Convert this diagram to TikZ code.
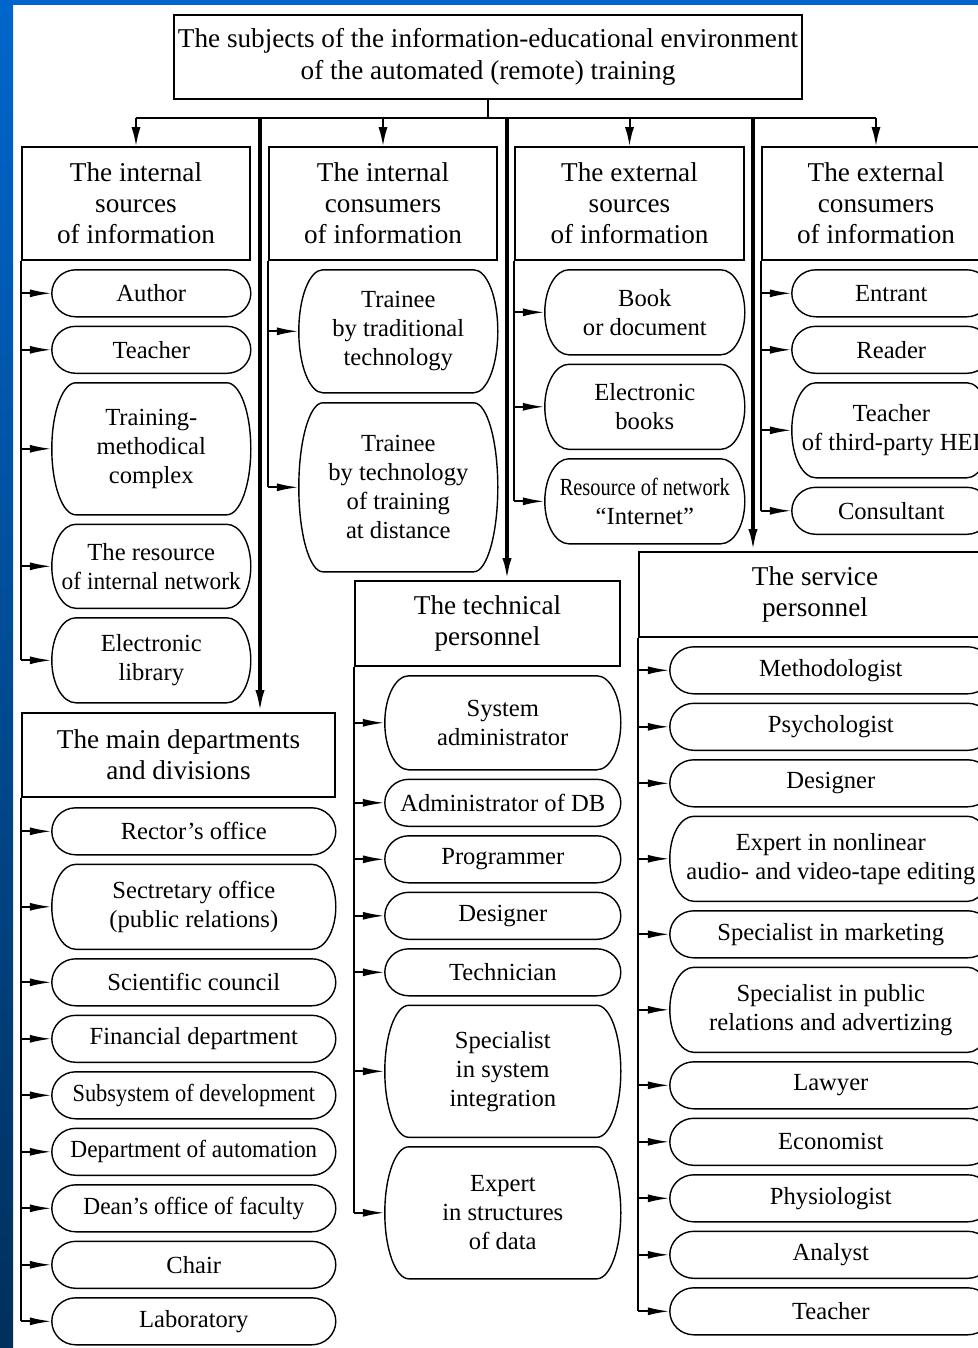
\documentclass[tikz,border=0pt]{standalone}
\usepackage{fontspec}
\setmainfont{Liberation Serif}
\newfontfamily\narrowfont[FakeStretch=0.83]{Liberation Serif}
\newfontfamily\slimfont[FakeStretch=0.91]{Liberation Serif}
\newfontfamily\leanfont[FakeStretch=0.95]{Liberation Serif}
\usetikzlibrary{positioning,arrows.meta,calc}
\newcommand{\hdrfont}{\fontsize{13.6}{15.5}\selectfont}
\newcommand{\itemfont}{\fontsize{12.3}{14.5}\selectfont}
\definecolor{slideblue}{RGB}{0,102,204}
\definecolor{slidenavy}{RGB}{0,48,92}
\tikzset{
  hdr/.style={draw, line width=0.8pt, align=center, font=\hdrfont, inner sep=2pt},
  item/.style={align=center, font=\itemfont, inner sep=0pt, outer sep=0pt, minimum width=#1, minimum height=23.5pt},
  outl/.style={line width=0.7pt},
  feed/.style={line width=0.8pt},
  arr/.style={line width=1pt, -{Latex[length=11pt,width=4pt]}},
  busline/.style={line width=1pt},
  drop/.style={line width=1pt, -{Latex[length=9.5pt,width=4.5pt]}},
  tap/.style={line width=1.6pt, -{Latex[length=11pt,width=4.5pt]}}
}
\begin{document}
\begin{tikzpicture}[x=0.5pt, y=-0.5pt, node distance=4.75pt]
  \useasboundingbox (0,0) rectangle (978,1348);
  \clip (0,0) rectangle (978,1348);
  % slide background
  \fill[top color=slideblue, bottom color=slidenavy] (0,0) rectangle (13,1348);
  \fill[slideblue] (0,0) rectangle (978,5);
  % place header nodes
  \node[hdr, font=\fontsize{13.6}{16}\selectfont, minimum width=313pt, minimum height=42pt] (top) at (488,57)
    {The subjects of the information-educational environment\\of the automated (remote) training};
  \node[hdr, minimum width=114pt, minimum height=56.5pt] (hdrA) at (136,203.5) {The internal\\sources\\of information};
  \node[hdr, minimum width=114pt, minimum height=56.5pt] (hdrB) at (383,203.5) {The internal\\consumers\\of information};
  \node[hdr, minimum width=114.5pt, minimum height=56.5pt] (hdrC) at (629.5,203.5) {The external\\sources\\of information};
  \node[hdr, minimum width=114pt, minimum height=56.5pt] (hdrD) at (876,203.5) {The external\\consumers\\of information};
  \node[hdr, minimum width=156.5pt, minimum height=42pt] (main) at (178.5,755) {The main departments\\and divisions};
  \node[hdr, minimum width=132.5pt, minimum height=42.5pt] (tech) at (487.5,623.5) {The technical\\personnel};
  \node[hdr, minimum width=176pt, minimum height=42.5pt] (service) at (815,594.5) {The service\\personnel};
  % internal sources
  \node[item=99.5pt, below left=4.5pt and 0pt of hdrA.south east] (author) {Author};
  \node[item=99.5pt, below=of author] (teacherA) {Teacher};
  \node[item=99.5pt, minimum height=66pt, below=of teacherA] (tmc) {Training-\\methodical\\complex};
  \node[item=99.5pt, minimum height=42pt, below=of tmc] (intres) {The resource\\{\leanfont of internal network}};
  \node[item=99.5pt, minimum height=42.5pt, below=of intres] (elib) {Electronic\\library};
  % internal consumers
  \node[item=99.5pt, minimum height=61.5pt, below left=4.5pt and 0pt of hdrB.south east] (trad) {Trainee\\by traditional\\technology};
  \node[item=99.5pt, minimum height=84.5pt, below=5pt of trad] (dist) {Trainee\\by technology\\of training\\at distance};
  % external sources
  \node[item=100pt, minimum height=42.5pt, below left=4.5pt and 0pt of hdrC.south east] (book) {Book\\or document};
  \node[item=100pt, minimum height=42.5pt, below=of book] (ebooks) {Electronic\\books};
  \node[item=100pt, minimum height=42.5pt, below=of ebooks] (inet) {{\narrowfont Resource of network}\\“Internet”};
  % external consumers
  \node[item=99.5pt, below left=4.5pt and 0pt of hdrD.south east] (entrant) {Entrant};
  \node[item=99.5pt, below=of entrant] (reader) {Reader};
  \node[item=99.5pt, minimum height=47.5pt, below=of reader] (hei) {Teacher\\of third-party HEI};
  \node[item=99.5pt, below=of hei] (consult) {Consultant};
  % main departments
  \node[item=142pt, below left=5pt and 0pt of main.south east] (rector) {Rector’s office};
  \node[item=142pt, minimum height=42.5pt, below=of rector] (secret) {Sectretary office\\(public relations)};
  \node[item=142pt, below=of secret] (council) {Scientific council};
  \node[item=142pt, below=of council] (finance) {Financial department};
  \node[item=142pt, below=of finance] (subsys) {{\slimfont Subsystem of development}};
  \node[item=142pt, below=of subsys] (autom) {{\leanfont Department of automation}};
  \node[item=142pt, below=of autom] (dean) {{\leanfont Dean’s office of faculty}};
  \node[item=142pt, below=of dean] (chair) {Chair};
  \node[item=142pt, below=of chair] (lab) {Laboratory};
  % technical personnel
  \node[item=118pt, minimum height=47pt, below left=4.5pt and 0pt of tech.south east] (sysadm) {System\\administrator};
  \node[item=118pt, below=of sysadm] (dbadm) {Administrator of DB};
  \node[item=118pt, below=of dbadm] (prog) {Programmer};
  \node[item=118pt, below=of prog] (designT) {Designer};
  \node[item=118pt, below=of designT] (techn) {Technician};
  \node[item=118pt, minimum height=66pt, below=of techn] (integr) {Specialist\\in system\\integration};
  \node[item=118pt, minimum height=66pt, below=of integr] (datexp) {Expert\\in structures\\of data};
  % service personnel
  \node[item=161pt, below left=4.5pt and 0pt of service.south east] (method) {Methodologist};
  \node[item=161pt, below=of method] (psych) {Psychologist};
  \node[item=161pt, below=of psych] (designS) {Designer};
  \node[item=161pt, minimum height=42.5pt, below=of designS] (editing) {Expert in nonlinear\\audio- and video-tape editing};
  \node[item=161pt, below=of editing] (market) {Specialist in marketing};
  \node[item=161pt, minimum height=42.5pt, below=of market] (pubrel) {Specialist in public\\relations and advertizing};
  \node[item=161pt, below=of pubrel] (lawyer) {Lawyer};
  \node[item=161pt, below=of lawyer] (econ) {Economist};
  \node[item=161pt, below=of econ] (physio) {Physiologist};
  \node[item=161pt, below=of physio] (analyst) {Analyst};
  \node[item=161pt, below=of analyst] (teacherS) {Teacher};
  % item outlines
  \foreach \q in {author,teacherA,tmc,intres,elib,trad,dist,book,ebooks,inet,
      entrant,reader,hei,consult,rector,secret,council,finance,subsys,autom,dean,chair,lab,
      sysadm,dbadm,prog,designT,techn,integr,datexp,
      method,psych,designS,editing,market,pubrel,lawyer,econ,physio,analyst,teacherS}
    \draw[outl] let \p1=(\q.north east), \p2=(\q.south west), \p3=($(\q.north)-(\q.center)$) in
      (\x2+12pt,\y1) -- (\x1-12pt,\y1)
      arc[start angle=90, end angle=-90, x radius=12pt, y radius=\y3]
      -- (\x2+12pt,\y2)
      arc[start angle=270, end angle=90, x radius=12pt, y radius=\y3] -- cycle;
  % draw edges
  \coordinate (bus) at (0,118);
  \coordinate (tapA) at (260,118);
  \coordinate (tapB) at (507,118);
  \coordinate (tapC) at (753,118);
  \draw[line width=0.6pt] (top.south) -- (top.south |- bus);
  \draw[busline] (hdrA.north |- bus) -- (hdrD.north |- bus);
  \foreach \h in {hdrA,hdrB,hdrC,hdrD}
    \draw[drop] (\h.north |- bus) -- (\h.north);
  \draw[tap] (tapA) -- (main.north -| tapA);
  \draw[tap] (tapB) -- (tech.north -| tapB);
  \draw[tap] (tapC) -- (service.north -| tapC);
  % feeder lines
  \draw[feed] (hdrA.south west) -- (hdrA.south west |- elib.west);
  \foreach \q in {author,teacherA,tmc,intres,elib}
    \draw[arr] (hdrA.south west |- \q.west) -- (\q.west);
  \draw[feed] (hdrB.south west) -- (hdrB.south west |- dist.west);
  \foreach \q in {trad,dist}
    \draw[arr] (hdrB.south west |- \q.west) -- (\q.west);
  \draw[feed] (hdrC.south west) -- (hdrC.south west |- inet.west);
  \foreach \q in {book,ebooks,inet}
    \draw[arr] (hdrC.south west |- \q.west) -- (\q.west);
  \draw[feed] (hdrD.south west) -- (hdrD.south west |- consult.west);
  \foreach \q in {entrant,reader,hei,consult}
    \draw[arr] (hdrD.south west |- \q.west) -- (\q.west);
  \draw[feed] (main.south west) -- (main.south west |- lab.west);
  \foreach \q in {rector,secret,council,finance,subsys,autom,dean,chair,lab}
    \draw[arr] (main.south west |- \q.west) -- (\q.west);
  \draw[feed] (tech.south west) -- (tech.south west |- datexp.west);
  \foreach \q in {sysadm,dbadm,prog,designT,techn,integr,datexp}
    \draw[arr] (tech.south west |- \q.west) -- (\q.west);
  \draw[feed] (service.south west) -- (service.south west |- teacherS.west);
  \foreach \q in {method,psych,designS,editing,market,pubrel,lawyer,econ,physio,analyst,teacherS}
    \draw[arr] (service.south west |- \q.west) -- (\q.west);
\end{tikzpicture}
\end{document}
